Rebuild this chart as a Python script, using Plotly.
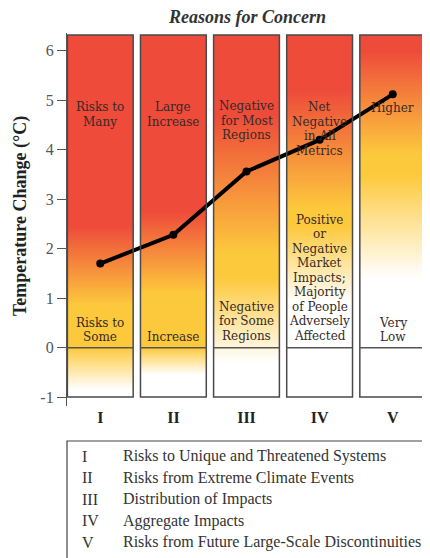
import plotly.graph_objects as go

# ---------------- data ----------------
categories = ["I", "II", "III", "IV", "V"]
line_values = [1.70, 2.28, 3.56, 4.20, 5.12]

# gradient thresholds per column (temperature, °C)
white_end = [-0.85, -0.55, -0.30, 0.90, 1.40]
yellow_start = [0.00, 0.00, 1.40, 2.45, 3.50]
yellow_end = [0.85, 1.10, 1.90, 2.80, 3.90]
red_start = [2.45, 2.75, 4.70, 5.20, 6.00]

upper_labels = [
    ["Risks to", "Many"],
    ["Large", "Increase"],
    ["Negative", "for Most", "Regions"],
    ["Net", "Negative", "in All", "Metrics"],
    ["Higher"],
]
upper_label_y = [4.71, 4.71, 4.59, 4.42, 4.85]
lower_labels = [
    ["Risks to", "Some"],
    ["Increase"],
    ["Negative", "for Some", "Regions"],
    ["Positive", "or", "Negative", "Market", "Impacts;", "Majority",
     "of People", "Adversely", "Affected"],
    ["Very", "Low"],
]
lower_label_y = [0.36, 0.22, 0.53, 1.41, 0.36]

y_ticks = [-1, 0, 1, 2, 3, 4, 5, 6]
legend_names = [
    "Risks to Unique and Threatened Systems",
    "Risks from Extreme Climate Events",
    "Distribution of Impacts",
    "Aggregate Impacts",
    "Risks from Future Large-Scale Discontinuities",
]

# ---------------- layout constants ----------------
OFF = 8  # the page body adds an 8px margin around the figure
PAGE_W, PAGE_H = 430, 558
W, H = PAGE_W - OFF, PAGE_H - OFF
# plot area in page pixels
P_LEFT, P_RIGHT, P_TOP, P_BOTTOM = 67, 426, 33, 406
ML = P_LEFT - OFF
MT = P_TOP - OFF
MR = PAGE_W - P_RIGHT
MB = PAGE_H - P_BOTTOM
PW, PH = P_RIGHT - P_LEFT, P_BOTTOM - P_TOP
XR = [-0.455, 4.455]
YR = [-1.18, 6.36]
COL_W = 0.9
Y_BOTTOM, Y_TOP = -1.0, 6.32
PX_PER_Y = PH / (YR[1] - YR[0])

WHITE = "#ffffff"
YELLOW = "#fdc93c"
RED = "#ee4b3b"
SERIF = "Liberation Serif, Times New Roman, serif"
LABEL_FONT = "DejaVu Serif, serif"


def px_x(p):
    return (p - P_LEFT) / PW


def px_y(p):
    return (P_BOTTOM - p) / PH


def norm(t):
    v = (t - Y_BOTTOM) / (Y_TOP - Y_BOTTOM)
    return min(max(v, 0.0), 1.0)


fig = go.Figure()

# gradient columns
n = 400
edges = [Y_BOTTOM + (Y_TOP - Y_BOTTOM) * k / n for k in range(n + 1)]
mids = [(edges[k] + edges[k + 1]) / 2 for k in range(n)]
for i, cat in enumerate(categories):
    stops = [
        (0.0, WHITE),
        (norm(white_end[i]), WHITE),
        (norm(yellow_start[i]), YELLOW),
        (norm(yellow_end[i]), YELLOW),
        (norm(red_start[i]), RED),
        (1.0, RED),
    ]
    cs = []
    last = -1
    for pos, col in stops:
        if pos < last:
            pos = last
        cs.append([pos, col])
        last = pos
    fig.add_trace(go.Heatmap(
        x=[i - COL_W / 2, i + COL_W / 2],
        y=edges,
        z=[[m] for m in mids],
        colorscale=cs,
        zmin=Y_BOTTOM, zmax=Y_TOP,
        showscale=False,
        hoverinfo="skip",
    ))

# line
fig.add_trace(go.Scatter(
    x=list(range(len(categories))),
    y=line_values,
    mode="lines+markers",
    line=dict(color="black", width=4),
    marker=dict(color="black", size=8),
    hoverinfo="skip",
    showlegend=False,
))

shapes = []
for i in range(len(categories)):
    shapes.append(dict(type="rect", xref="x", yref="y",
                       x0=i - COL_W / 2, x1=i + COL_W / 2, y0=Y_BOTTOM, y1=Y_TOP,
                       line=dict(color="#4a4a4a", width=1.5), layer="above"))
    shapes.append(dict(type="line", xref="x", yref="y",
                       x0=i - COL_W / 2, x1=i + COL_W / 2, y0=0, y1=0,
                       line=dict(color="#555555", width=1.5), layer="above"))

annotations = []
LINE_STEP = 14.5 / PX_PER_Y
for labels, ys in ((upper_labels, upper_label_y), (lower_labels, lower_label_y)):
    for i, lines in enumerate(labels):
        k = len(lines)
        for j, txt in enumerate(lines):
            yy = ys[i] + ((k - 1) / 2 - j) * LINE_STEP
            annotations.append(dict(x=i, y=yy, xref="x", yref="y", text=txt,
                                    showarrow=False, xanchor="center", yanchor="middle",
                                    borderpad=0,
                                    font=dict(family=LABEL_FONT, size=12, color="#352a26")))

# title
annotations.append(dict(x=px_x(247), y=px_y(17), xref="paper", yref="paper",
                        text="<b><i>Reasons for Concern</i></b>", showarrow=False,
                        xanchor="center", yanchor="middle",
                        font=dict(family=SERIF, size=18, color="#333333")))
# y title
annotations.append(dict(x=px_x(20), y=px_y(216), xref="paper", yref="paper",
                        text="<b>Temperature Change (°C)</b>", showarrow=False,
                        textangle=-90, xanchor="center", yanchor="middle",
                        font=dict(family=SERIF, size=18, color="#222222")))

# legend box
shapes.append(dict(type="rect", xref="paper", yref="paper",
                   x0=px_x(67), x1=px_x(426), y0=px_y(565), y1=px_y(441),
                   line=dict(color="#444444", width=1.2)))
for j, (cat, name) in enumerate(zip(categories, legend_names)):
    yy = px_y(456 + 21.6 * j)
    annotations.append(dict(x=px_x(80), y=yy, xref="paper", yref="paper", text=cat,
                            showarrow=False, xanchor="left", yanchor="middle",
                            font=dict(family=SERIF, size=16, color="#333333")))
    annotations.append(dict(x=px_x(121), y=yy, xref="paper", yref="paper", text=name,
                            showarrow=False, xanchor="left", yanchor="middle",
                            font=dict(family=SERIF, size=16, color="#333333")))

fig.update_layout(
    width=W, height=H,
    margin=dict(l=ML, r=MR, t=MT, b=MB, pad=0, autoexpand=False),
    paper_bgcolor="white", plot_bgcolor="white",
    showlegend=False,
    shapes=shapes,
    annotations=annotations,
    xaxis=dict(range=XR, tickvals=list(range(len(categories))), ticktext=categories,
               showgrid=False, zeroline=False, showline=False, ticks="",
               automargin=False,
               tickfont=dict(family=SERIF, size=16, color="#222222", weight="bold"),
               fixedrange=True),
    yaxis=dict(range=YR, tickvals=y_ticks, ticktext=[str(t) for t in y_ticks],
               showgrid=False, zeroline=False, showline=True, linecolor="#555555",
               linewidth=1.2, ticks="outside", ticklen=9, tickcolor="#555555",
               tickwidth=1.2, automargin=False,
               tickfont=dict(family=SERIF, size=16, color="#555555"),
               fixedrange=True),
)

fig.write_html("out.html")
